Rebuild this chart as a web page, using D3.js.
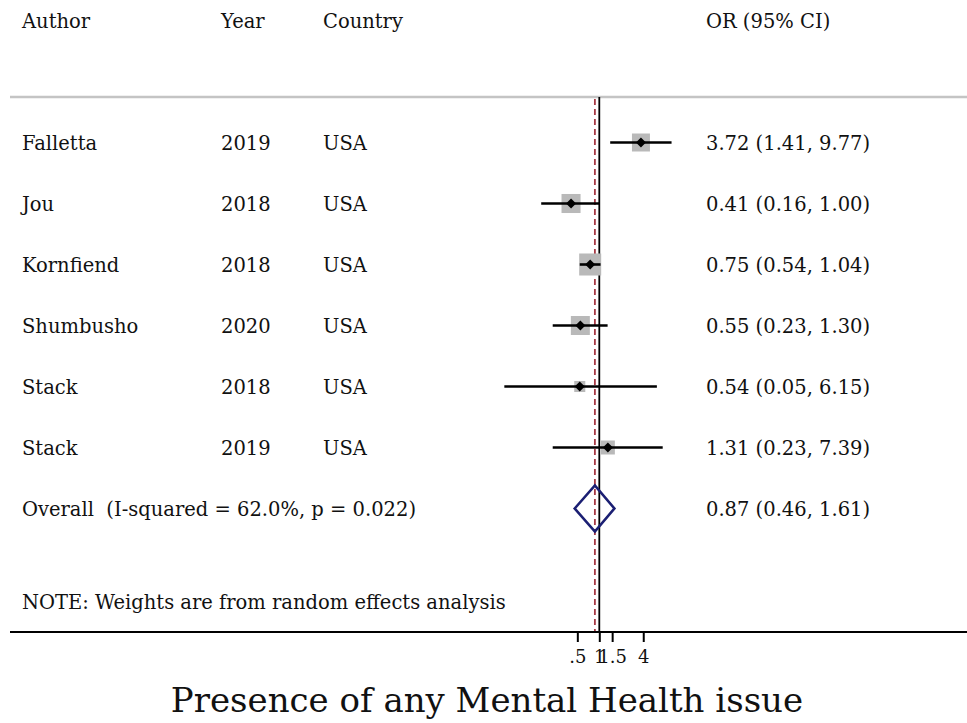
<!DOCTYPE html>
<html><head><meta charset="utf-8">
<script src="https://cdn.jsdelivr.net/npm/d3@7"></script>
<style>body{margin:0;background:#fff}svg{display:block}text{font-family:"DejaVu Serif",serif;white-space:pre}</style>
</head><body><svg id="c" width="967" height="723"></svg>
<script>
const authors = ["Falletta","Jou","Kornfiend","Shumbusho","Stack","Stack"];
const years = ["2019","2018","2018","2020","2018","2019"];
const countries = ["USA","USA","USA","USA","USA","USA"];
const orValues = [3.72,0.41,0.75,0.55,0.54,1.31];
const ciLow = [1.41,0.16,0.54,0.23,0.05,0.23];
const ciHigh = [9.77,1.00,1.04,1.30,6.15,7.39];
const weights = [17.5,19.6,26.2,19.5,6.6,10.6];
const overall = {label:"Overall  (I-squared = 62.0%, p = 0.022)", or:0.87, lo:0.46, hi:1.61};
const tickValues = [0.5,1,1.5,4];
const tickLabels = [".5","1","1.5","4"];
const headers = ["Author","Year","Country","OR (95% CI)"];
const note = "NOTE: Weights are from random effects analysis";
const title = "Presence of any Mental Health issue";

const svg = d3.select("#c");
const fs = 19.5;
const colX = [22,221,323,706];
const x0 = 599.3, k = 31.7;
const x = d3.scaleLog().domain([0.05,10]).range([x0 + k*Math.log(0.05), x0 + k*Math.log(10)]);
const rows = authors.map((a,i)=>i);
const y = d3.scalePoint().domain(d3.range(8)).range([142.5, 142.5+61*7]);
const topY = 97, axisY = 632;

headers.forEach((h,i)=>svg.append("text").attr("x",colX[i]).attr("y",28).attr("font-size",fs).attr("fill","#111").text(h));
svg.append("line").attr("x1",10).attr("x2",967).attr("y1",topY).attr("y2",topY).attr("stroke","#c4c4c4").attr("stroke-width",2.5);

svg.append("line").attr("x1",x(1)).attr("x2",x(1)).attr("y1",topY).attr("y2",axisY).attr("stroke","#000").attr("stroke-width",1.8);
svg.append("line").attr("x1",x(overall.or)).attr("x2",x(overall.or)).attr("y1",topY+2).attr("y2",axisY).attr("stroke","#a83a45").attr("stroke-width",1.8).attr("stroke-dasharray","6,4");

const g = svg.append("g");
rows.forEach(i=>{
  const yy = y(i);
  const side = 4.3*Math.sqrt(weights[i]);
  g.append("rect").attr("x",x(orValues[i])-side/2).attr("y",yy-side/2).attr("width",side).attr("height",side).attr("fill","#b9b9b9");
  g.append("line").attr("x1",x(ciLow[i])).attr("x2",x(ciHigh[i])).attr("y1",yy).attr("y2",yy).attr("stroke","#000").attr("stroke-width",2.6);
  const px = x(orValues[i]), d=5;
  g.append("path").attr("d",`M${px-d},${yy}L${px},${yy-d}L${px+d},${yy}L${px},${yy+d}Z`).attr("fill","#000");
  [authors[i],years[i],countries[i],`${orValues[i].toFixed(2)} (${ciLow[i].toFixed(2)}, ${ciHigh[i].toFixed(2)})`].forEach((t,j)=>
    g.append("text").attr("x",colX[j]).attr("y",yy+7).attr("font-size",fs).attr("fill","#111").text(t));
});
const oy = y(6);
svg.append("path").attr("d",`M${x(overall.lo)},${oy}L${x(overall.or)},${oy-23}L${x(overall.hi)},${oy}L${x(overall.or)},${oy+23}Z`)
  .attr("fill","none").attr("stroke","#1b1f73").attr("stroke-width",2.6);
svg.append("text").attr("x",colX[0]).attr("y",oy+7).attr("font-size",fs).attr("fill","#111").text(overall.label);
svg.append("text").attr("x",colX[3]).attr("y",oy+7).attr("font-size",fs).attr("fill","#111").text(`${overall.or.toFixed(2)} (${overall.lo.toFixed(2)}, ${overall.hi.toFixed(2)})`);
svg.append("text").attr("x",colX[0]).attr("y",609).attr("font-size",fs).attr("fill","#111").text(note);

svg.append("line").attr("x1",10).attr("x2",967).attr("y1",axisY).attr("y2",axisY).attr("stroke","#000").attr("stroke-width",2.2);
const axis = d3.axisBottom(x).tickValues(tickValues).tickFormat((d,i)=>tickLabels[i]).tickSize(10).tickPadding(8);
const ag = svg.append("g").attr("transform",`translate(0,${axisY})`).call(axis);
ag.select(".domain").remove();
ag.selectAll(".tick line").attr("stroke","#000").attr("stroke-width",2);
ag.selectAll(".tick text").attr("font-size",18).attr("font-family","Liberation Serif").attr("fill","#111");
svg.append("text").attr("x",487).attr("y",712).attr("text-anchor","middle").attr("font-size",34).attr("fill","#111").text(title);
</script></body></html>
